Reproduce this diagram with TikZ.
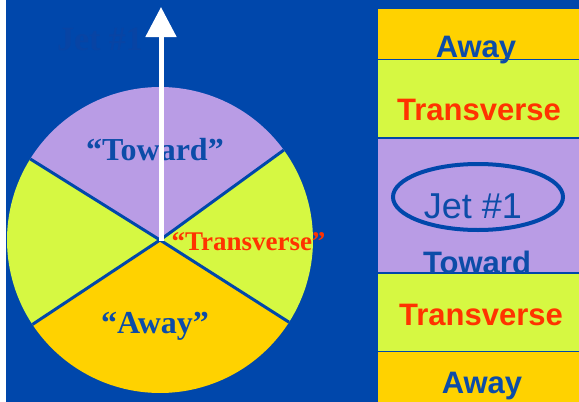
\documentclass[tikz,border=0pt]{standalone}
\usepackage{fontspec}
\setmainfont{Liberation Serif}
\setsansfont{Liberation Sans}
\usetikzlibrary{arrows.meta}
\definecolor{bgblue}{RGB}{0,71,171}
\definecolor{txtblue}{RGB}{12,76,168}
\definecolor{ghost}{RGB}{8,68,164}
\definecolor{lav}{RGB}{185,156,229}
\definecolor{lime}{RGB}{214,248,66}
\definecolor{gold}{RGB}{255,210,0}
\definecolor{redtxt}{RGB}{255,51,0}
\tikzset{
  sep/.style={draw=bgblue, line width=3pt},
  paneltxt/.style={font=\sffamily\bfseries\fontsize{31}{31}\selectfont, anchor=base, inner sep=0pt},
  circtxt/.style={font=\rmfamily\bfseries\fontsize{32}{32}\selectfont, anchor=base, inner sep=0pt},
}
\begin{document}
\begin{tikzpicture}[x=1pt,y=-1pt]
\useasboundingbox (0,0) rectangle (579,402);
\fill[white] (0,0) rectangle (579,402);
\fill[bgblue] (6,0) rectangle (579,402);
% ghost text
\node[circtxt, text=ghost, font=\rmfamily\bfseries\fontsize{34}{34}\selectfont] (ghost) at (100,50) {Jet \#1};
% circle sectors
\coordinate (c) at (160,240);
\def\R{153}
\fill[lav] (c) -- ++(-36:\R) arc[start angle=-36, end angle=-148, radius=\R] -- cycle;
\fill[lime] (c) -- ++(-148:\R) arc[start angle=-148, end angle=-213.5, radius=\R] -- cycle;
\fill[gold] (c) -- ++(-213.5:\R) arc[start angle=-213.5, end angle=-327.5, radius=\R] -- cycle;
\fill[lime] (c) -- ++(-327.5:\R) arc[start angle=-327.5, end angle=-396, radius=\R] -- cycle;
\path (c) ++(-36:\R) coordinate (ur);
\path (c) ++(-148:\R) coordinate (ul);
\path (c) ++(-213.5:\R) coordinate (ll);
\path (c) ++(-327.5:\R) coordinate (lr);
\draw[sep, line cap=butt] (ul) -- (c) -- (ur);
\draw[sep, line cap=butt] (ll) -- (c) -- (lr);
% circle labels
\node[circtxt, text=txtblue] (toward) at (155,160) {“Toward”};
\node[circtxt, text=redtxt, font=\rmfamily\bfseries\fontsize{27}{27}\selectfont] (trans) at (248.5,250) {“Transverse”};
\node[circtxt, text=txtblue] (away) at (155,333) {“Away”};
% arrow
\coordinate (tip) at (161,7);
\draw[white, line width=5pt, -{Triangle[length=30pt,width=30pt]}] (161,241) -- (tip);
% right panel
\fill[gold] (378,9) rectangle (579,58.5);
\fill[lime] (378,60) rectangle (579,137.3);
\node[paneltxt, text=txtblue] (p1) at (476,57) {Away};
\node[paneltxt, text=redtxt] (p2) at (479,120) {Transverse};
\fill[lav] (378,139) rectangle (579,272.3);
\node[paneltxt, text=txtblue] (p3) at (477,273) {Toward};
\node[anchor=base, inner sep=0pt, text=txtblue, font=\sffamily\fontsize{36}{36}\selectfont] (jet) at (473,218) {Jet \#1};
\draw[bgblue, line width=4pt] (478,197) ellipse[x radius=85, y radius=33];
\fill[lime] (378,274) rectangle (579,350.5);
\node[paneltxt, text=redtxt] (p4) at (481,325) {Transverse};
\fill[gold] (378,352.3) rectangle (579,402);
\node[paneltxt, text=txtblue] (p5) at (482,393) {Away};
\end{tikzpicture}
\end{document}
